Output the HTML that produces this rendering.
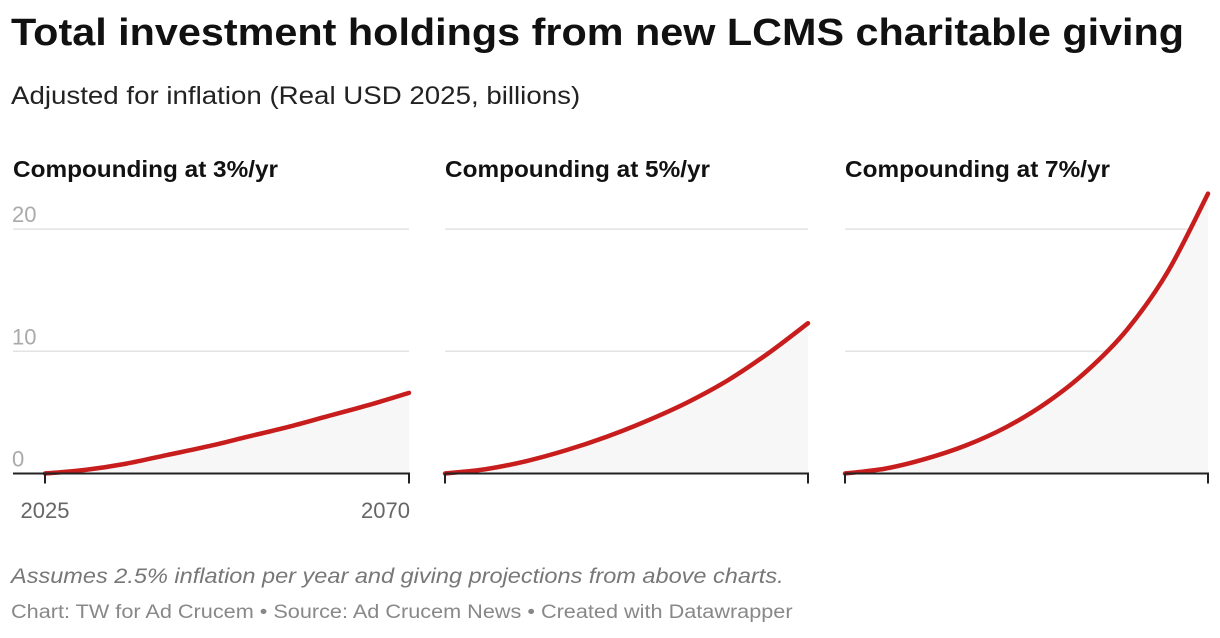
<!DOCTYPE html>
<html><head><meta charset="utf-8">
<style>
body{margin:0;width:1220px;height:638px;background:#fff;font-family:"Liberation Sans",sans-serif;overflow:hidden;position:relative}
.t{position:absolute;white-space:nowrap;transform-origin:0 0}
</style></head><body>
<div class="t" style="left:11px;top:12px;font-size:38px;font-weight:bold;color:#111;transform:scaleX(1.088)">Total investment holdings from new LCMS charitable giving</div>
<div class="t" style="left:11px;top:82px;font-size:25px;color:#222;transform:scaleX(1.107)">Adjusted for inflation (Real USD 2025, billions)</div>
<svg id="c" width="1220" height="560" style="position:absolute;left:0;top:0"></svg>
<div class="t" style="left:11px;top:565px;font-size:21px;font-style:italic;color:#777;transform:scaleX(1.12)">Assumes 2.5% inflation per year and giving projections from above charts.</div>
<div class="t" style="left:11px;top:602px;font-size:19px;color:#888;transform:scaleX(1.14)">Chart: TW for Ad Crucem • Source: Ad Crucem News • Created with Datawrapper</div>
<script>
const years=[2025,2030,2035,2040,2045,2050,2055,2060,2065,2070];
const rate3=[0,0.3,0.8,1.5,2.2,3.0,3.8,4.7,5.6,6.6];
const rate5=[0,0.35,1.0,1.9,3.0,4.3,5.8,7.6,9.8,12.3];
const rate7=[0,0.4,1.2,2.3,3.8,5.8,8.4,11.8,16.5,22.9];
const panelTitles=["Compounding at 3%/yr","Compounding at 5%/yr","Compounding at 7%/yr"];
const yTicks=[0,10,20];
const xTickLabels=["2025","2070"];
const series=[rate3,rate5,rate7];
const svg=document.getElementById('c');const NS='http://www.w3.org/2000/svg';
function mk(t,a,p){const e=document.createElementNS(NS,t);for(const k in a)e.setAttribute(k,a[k]);(p||svg).appendChild(e);return e;}
const panels=[{gx:13,x0:45,x1:409,tx:13},{gx:445,x0:445,x1:808,tx:445},{gx:845,x0:845,x1:1208,tx:845}];
const Y=v=>473.5-v*12.22;
panels.forEach((p,i)=>{
  const X=yr=>p.x0+(yr-2025)/(2070-2025)*(p.x1-p.x0);
  const g=mk('g',{});
  
  
  const tt=mk('text',{x:p.tx,y:177,'font-size':23,'font-weight':'bold',fill:'#111',textLength:265,lengthAdjust:'spacingAndGlyphs'},g);tt.textContent=panelTitles[i];
  
  
  yTicks.forEach(v=>{
    if(v>0){const gl=mk('line',{x1:p.gx,x2:p.x1,y1:Y(v),y2:Y(v),stroke:'#e3e3e3','stroke-width':1.5},g);
    
    }
    if(i==0){const l=mk('text',{x:12,y:Y(v)-7,'font-size':22,fill:'#aaa'},g);l.textContent=v;
    
    }
  });
  const d=series[i];
  let pts=years.map((yr,j)=>X(yr)+','+Y(d[j]));
  const a=mk('polygon',{points:pts.join(' ')+' '+X(2070)+','+Y(0)+' '+X(2025)+','+Y(0),fill:'#f7f7f7'},g);
  
  
  const P=years.map((yr,j)=>[X(yr),Y(d[j])]);
  let s='M'+P[0];
  for(let j=0;j<P.length-1;j++){const p0=P[j-1]||P[j],p1=P[j],p2=P[j+1],p3=P[j+2]||P[j+1];
    s+=' C'+(p1[0]+(p2[0]-p0[0])/6)+','+(p1[1]+(p2[1]-p0[1])/6)+' '+(p2[0]-(p3[0]-p1[0])/6)+','+(p2[1]-(p3[1]-p1[1])/6)+' '+p2;}
  const ln=mk('path',{d:s,fill:'none',stroke:'#c71e1d','stroke-width':4.5,'stroke-linecap':'round'},g);
  
  
  const ax=mk('line',{x1:p.gx,x2:p.x1+1,y1:Y(0),y2:Y(0),stroke:'#222','stroke-width':2},g);
  
  
  [2025,2070].forEach((yr,k)=>{
    const tk=mk('line',{x1:X(yr),x2:X(yr),y1:Y(0),y2:Y(0)+10,stroke:'#222','stroke-width':2},g);
    
    
    if(i==0){const l=mk('text',{x:X(yr),y:518,'font-size':22,fill:'#666','text-anchor':k?'end':'middle'},g);l.textContent=xTickLabels[k];
    if(k)l.setAttribute('x',X(yr)+1);
    
    }
  });
});
</script>
</body></html>
